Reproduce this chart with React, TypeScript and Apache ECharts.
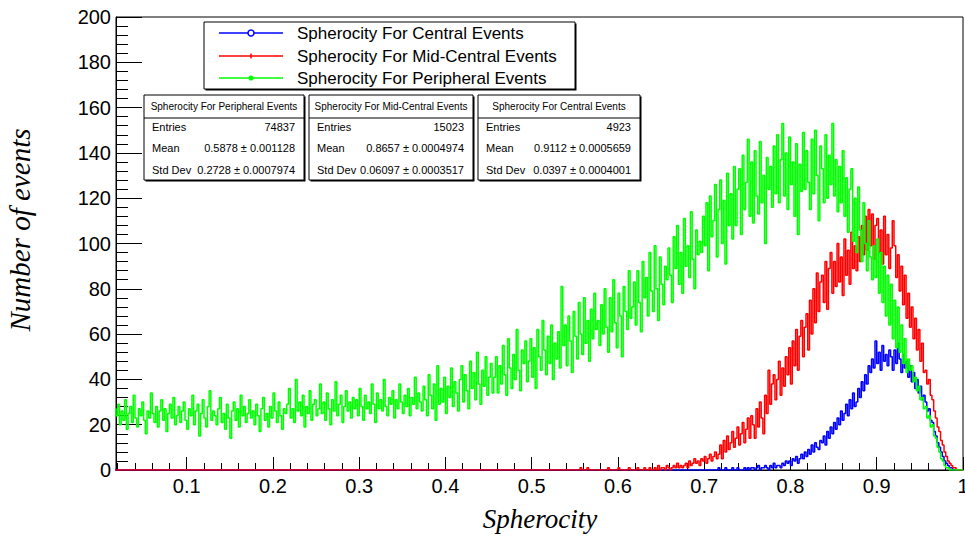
import React, { useEffect, useRef } from "react";
import * as echarts from "echarts";

// ---------- data ----------
const BIN_START = 0.016;
const BIN_WIDTH = 0.002;
const X_MIN = 0.018;
const X_MAX = 1;

const greenStart = 0.016;
const greenValues = [
  27, 24, 29, 20, 26, 22, 31, 18, 25, 28, 21, 33, 23, 19, 27, 24, 30, 22, 16, 26,
  23, 34, 25, 21, 28, 19, 26, 31, 22, 27, 17, 25, 29, 23, 32, 20, 24, 28, 21, 26,
  30, 22, 18, 27, 24, 33, 20, 26, 29, 15, 25, 31, 23, 19, 28, 35, 22, 26, 24, 20,
  27, 32, 21, 25, 18, 29, 23, 14, 26, 30, 22, 27, 19, 33, 24, 28, 21, 25, 31, 23,
  26, 20, 29, 24, 17, 27, 32, 22, 25, 19, 28, 23, 34, 26, 21, 30, 24, 18, 27, 25,
  29, 36, 23, 27, 21, 40, 26, 30, 24, 33, 19, 28, 25, 35, 22, 29, 31, 24, 27, 38,
  25, 30, 22, 34, 27, 20, 31, 26, 39, 24, 29, 33, 21, 28, 35, 26, 30, 23, 32, 27,
  31, 24, 36, 28, 22, 33, 27, 30, 25, 38, 29, 21, 34, 27, 31, 26, 40, 28, 24, 32,
  29, 35, 23, 31, 27, 38, 30, 25, 33, 28, 36, 24, 32, 29, 41, 27, 34, 30, 26, 37,
  31, 24, 42, 33, 27, 38, 22, 46, 29, 36, 30, 41, 25, 37, 32, 45, 28, 39, 34, 26,
  40, 46, 30, 42, 35, 27, 48, 36, 43, 31, 52, 38, 29, 44, 37, 50, 33, 41, 47, 34,
  41, 50, 34, 46, 38, 55, 42, 33, 58, 45, 36, 51, 40, 62, 44, 35, 53, 47, 57, 39,
  48, 58, 41, 54, 36, 62, 50, 44, 66, 53, 42, 59, 47, 64, 40, 56, 49, 61, 45, 81,
  55, 64, 46, 68, 57, 43, 70, 59, 49, 74, 60, 51, 76, 56, 66, 48, 71, 58, 78, 62,
  66, 55, 73, 60, 80, 63, 52, 76, 61, 84, 65, 54, 78, 68, 50, 81, 70, 62, 88, 67,
  72, 83, 64, 88, 74, 61, 92, 76, 85, 68, 96, 79, 70, 99, 80, 66, 94, 82, 73, 90,
  84, 98, 86, 74, 103, 89, 108, 82, 96, 78, 111, 90, 99, 85, 114, 93, 80, 106, 95, 101,
  96, 112, 99, 118, 88, 121, 103, 110, 126, 94, 115, 128, 100, 119, 91, 131, 108, 122, 102, 134,
  108, 124, 133, 104, 139, 115, 127, 146, 112, 136, 109, 141, 121, 113, 145, 118, 130, 100, 138, 124,
  134, 116, 143, 122, 148, 118, 137, 153, 121, 140, 115, 147, 126, 136, 112, 144, 104, 135, 123, 149,
  124, 141, 127, 115, 146, 122, 150, 130, 110, 143, 133, 118, 148, 120, 139, 126, 153, 121, 137, 114,
  134, 118, 141, 112, 129, 105, 124, 133, 101, 120, 96, 125, 106, 92, 118, 100, 88, 110, 94, 84,
  99, 85, 102, 78, 96, 74, 90, 68, 86, 64, 82, 58, 75, 54, 72, 52, 64, 47, 58, 43,
  49, 44, 46, 39, 41, 35, 37, 31, 32, 27, 28, 23, 24, 19, 20, 15, 14, 10, 8, 5,
  4, 2, 1, 1,
];

const redStart = 0.556;
const redValues = [
  1, 0, 0, 0, 1, 0, 0, 0, 0, 0, 0, 0, 0, 0, 0, 0, 1, 0, 0, 0,
  0, 0, 1, 0, 0, 0, 0, 0, 1, 0, 0, 0, 0, 1, 0, 0, 0, 1, 0, 0,
  1, 0, 0, 1, 0, 2, 0, 1, 1, 0, 2, 1, 0, 1, 2, 1, 3, 1, 2, 1,
  2, 3, 1, 4, 2, 3, 5, 3, 4, 2, 5, 4, 6, 3, 5, 7, 4, 6, 8, 5,
  7, 11, 5, 13, 8, 15, 9, 12, 17, 10, 14, 19, 11, 16, 21, 12, 18, 23, 14, 24,
  20, 14, 27, 19, 30, 23, 16, 33, 25, 44, 29, 38, 42, 31, 40, 48, 33, 45, 37, 50,
  42, 54, 38, 57, 46, 62, 44, 59, 66, 50, 63, 69, 53, 75, 60, 80, 65, 87, 70, 83,
  86, 74, 92, 71, 89, 96, 78, 92, 81, 100, 83, 94, 77, 102, 86, 97, 82, 105, 89, 99,
  88, 103, 92, 108, 95, 112, 97, 115, 99, 113, 93, 108, 111, 96, 106, 91, 112, 95, 104, 89,
  98, 110, 99, 85, 95, 79, 90, 73, 86, 67, 78, 63, 72, 58, 67, 53, 62, 48, 56, 43,
  44, 38, 40, 33, 31, 26, 23, 19, 17, 13, 11, 8, 6, 4, 3, 2, 1, 1,
];

const blueStart = 0.716;
const blueValues = [
  1, 0, 0, 0, 1, 0, 0, 0, 1, 0, 0, 1, 0, 0, 0, 1, 0, 1, 0, 1,
  1, 0, 1, 2, 0, 1, 1, 2, 1, 0, 2, 1, 3, 1, 2, 2, 1, 3, 2, 4,
  3, 4, 2, 5, 4, 6, 3, 5, 7, 5, 8, 6, 9, 7, 11, 8, 12, 10, 9, 13,
  12, 15, 11, 17, 14, 19, 16, 21, 18, 23, 20, 26, 22, 25, 29, 24, 31, 27, 34, 28,
  30, 36, 32, 39, 35, 42, 38, 46, 43, 49, 45, 57, 47, 52, 44, 55, 48, 51, 46, 53,
  50, 44, 53, 47, 56, 49, 43, 51, 45, 48, 41, 46, 39, 43, 36, 40, 34, 37, 31, 33,
  30, 26, 27, 22, 21, 17, 15, 12, 10, 8, 6, 4, 3, 2, 1, 1,
];

const xMajorTicks = [0.1, 0.2, 0.3, 0.4, 0.5, 0.6, 0.7, 0.8, 0.9, 1.0];
const xMinorTicks = [
  0.02, 0.04, 0.06, 0.08, 0.12, 0.14, 0.16, 0.18, 0.22, 0.24, 0.26, 0.28,
  0.32, 0.34, 0.36, 0.38, 0.42, 0.44, 0.46, 0.48, 0.52, 0.54, 0.56, 0.58,
  0.62, 0.64, 0.66, 0.68, 0.72, 0.74, 0.76, 0.78, 0.82, 0.84, 0.86, 0.88,
  0.92, 0.94, 0.96, 0.98,
];
const Y_MIN = 0;
const Y_MAX = 200;
const Y_STEP = 20;

const seriesNames = [
  "Spherocity For Central Events",
  "Spherocity For Mid-Central Events",
  "Spherocity For Peripheral Events",
];
const seriesColors = ["#0000ff", "#ff0000", "#00ff00"];

const statTitles = [
  "Spherocity For Peripheral Events",
  "Spherocity For Mid-Central Events",
  "Spherocity For Central Events",
];
const statEntries = ["74837", "15023", "4923"];
const statMeans = ["0.5878 ± 0.001128", "0.8657 ± 0.0004974", "0.9112 ± 0.0005659"];
const statStdDevs = ["0.2728 ± 0.0007974", "0.06097 ± 0.0003517", "0.0397 ± 0.0004001"];

const xTitle = "Spherocity";
const yTitle = "Number of events";

// ---------- helpers ----------
function buildHist(start: number, values: number[]) {
  const nTotal = Math.round((1 - BIN_START) / BIN_WIDTH);
  const offset = Math.round((start - BIN_START) / BIN_WIDTH);
  const pts: [number, number][] = [];
  for (let i = 0; i <= nTotal; i++) {
    const j = i - offset;
    const v = j >= 0 && j < values.length ? values[j] : 0;
    pts.push([+(BIN_START + i * BIN_WIDTH).toFixed(4), v]);
  }
  return pts;
}

const SANS = "'Liberation Sans', Arial, Helvetica, sans-serif";
const SERIF = "'Liberation Serif', 'Times New Roman', serif";

export default function App() {
  const ref = useRef<HTMLDivElement>(null);

  useEffect(() => {
    if (!ref.current) return;
    const chart = echarts.init(ref.current, undefined, { renderer: "svg" });

    const hists = [
      buildHist(blueStart, blueValues),
      buildHist(redStart, redValues),
      buildHist(greenStart, greenValues),
    ];

    // legend graphic
    const legendX = 204, legendY = 22, legendW = 371, legendH = 67;
    const rowsY = [33, 56, 78];
    const legendChildren: any[] = [
      { type: "rect", shape: { x: legendX + 1.5, y: legendY + 1.5, width: legendW, height: legendH }, style: { fill: "#000" } },
      { type: "rect", shape: { x: legendX, y: legendY, width: legendW, height: legendH }, style: { fill: "#fff", stroke: "#000", lineWidth: 1 } },
    ];
    seriesNames.forEach((name, i) => {
      const y = rowsY[i];
      legendChildren.push({ type: "line", shape: { x1: 219, y1: y, x2: 283, y2: y }, style: { stroke: seriesColors[i], lineWidth: 1.5 } });
      if (i === 0) {
        legendChildren.push({ type: "circle", shape: { cx: 251, cy: y, r: 3 }, style: { fill: "#fff", stroke: seriesColors[i], lineWidth: 1.5 } });
      } else if (i === 1) {
        legendChildren.push({ type: "line", shape: { x1: 251, y1: y - 2.5, x2: 251, y2: y + 2.5 }, style: { stroke: seriesColors[i], lineWidth: 1.5 } });
      } else {
        legendChildren.push({ type: "circle", shape: { cx: 251, cy: y, r: 2.5 }, style: { fill: seriesColors[i] } });
      }
      legendChildren.push({
        type: "text", x: 297, y, style: { text: name, fontSize: 17, fontFamily: SANS, fill: "#000", textAlign: "left", textVerticalAlign: "middle" },
      });
    });

    // stat boxes
    const boxX = [144, 309, 478];
    const boxW = [160, 164, 162];
    const boxY = 95, boxH = 85, sepY = 118;
    const statChildren: any[] = [];
    statTitles.forEach((title, i) => {
      const x = boxX[i], w = boxW[i];
      statChildren.push(
        { type: "rect", shape: { x: x + 1.5, y: boxY + 1.5, width: w, height: boxH }, style: { fill: "#000" } },
        { type: "rect", shape: { x, y: boxY, width: w, height: boxH }, style: { fill: "#fff", stroke: "#000", lineWidth: 1 } },
        { type: "line", shape: { x1: x, y1: sepY, x2: x + w, y2: sepY }, style: { stroke: "#000", lineWidth: 1 } },
        { type: "text", x: x + w / 2, y: 106, style: { text: title, fontSize: 10, fontFamily: SANS, fill: "#000", textAlign: "center", textVerticalAlign: "middle" } },
      );
      const labels = ["Entries", "Mean", "Std Dev"];
      const vals = [statEntries[i], statMeans[i], statStdDevs[i]];
      const ys = [127, 148, 170];
      labels.forEach((lab, k) => {
        statChildren.push(
          { type: "text", x: x + 8, y: ys[k], style: { text: lab, fontSize: 11, fontFamily: SANS, fill: "#000", textAlign: "left", textVerticalAlign: "middle" } },
          { type: "text", x: x + w - 9, y: ys[k], style: { text: vals[k], fontSize: 11, fontFamily: SANS, fill: "#000", textAlign: "right", textVerticalAlign: "middle" } },
        );
      });
    });

    const option: any = {
      animation: false,
      backgroundColor: "#fff",
      grid: {
        left: 116, right: 2, top: 17, bottom: 66, show: true, borderColor: "#000", borderWidth: 1,
        backgroundColor: "transparent", containLabel: false, outerBoundsMode: "none",
      },
      xAxis: [
        {
          type: "value", min: X_MIN, max: X_MAX,
          axisLine: { show: true, onZero: false, lineStyle: { color: "#000", width: 1 } },
          axisTick: { show: true, inside: true, length: 13, customValues: xMajorTicks, lineStyle: { color: "#000", width: 1 } },
          axisLabel: {
            show: true, customValues: xMajorTicks, fontSize: 20, fontFamily: SANS, color: "#000", margin: 6,
            formatter: (v: number) => (Math.abs(v - 1) < 1e-9 ? "1" : v.toFixed(1)),
          },
          splitLine: { show: false },
        },
        {
          type: "value", min: X_MIN, max: X_MAX, position: "bottom",
          axisLine: { show: false },
          axisTick: { show: true, inside: true, length: 7, customValues: xMinorTicks, lineStyle: { color: "#000", width: 1 } },
          axisLabel: { show: false },
          splitLine: { show: false },
        },
      ],
      yAxis: {
        type: "value", min: Y_MIN, max: Y_MAX, interval: Y_STEP,
        axisLine: { show: true, lineStyle: { color: "#000", width: 1 } },
        axisTick: { show: true, inside: true, length: 26, lineStyle: { color: "#000", width: 1 } },
        minorTick: { show: true, splitNumber: 5, length: 12, lineStyle: { color: "#000", width: 1 } },
        axisLabel: { fontSize: 20, fontFamily: SANS, color: "#000", margin: 5 },
        splitLine: { show: false },
        minorSplitLine: { show: false },
      },
      series: hists.map((data, i) => ({
        type: "line",
        name: seriesNames[i],
        xAxisIndex: 0,
        data,
        step: "end",
        symbol: "none",
        lineStyle: { color: seriesColors[i], width: 1.5 },
        itemStyle: { color: seriesColors[i] },
        clip: true,
        z: 2 + i,
      })),
      graphic: [
        { type: "group", z: 100, children: legendChildren },
        { type: "group", z: 100, children: statChildren },
        {
          type: "text", x: 540, y: 519, z: 100,
          style: { text: xTitle, fontSize: 27, fontFamily: SERIF, fontStyle: "italic", fill: "#000", textAlign: "center", textVerticalAlign: "middle" },
        },
        {
          type: "text", x: 20, y: 230, rotation: Math.PI / 2, z: 100,
          style: { text: yTitle, fontSize: 29, fontFamily: SERIF, fontStyle: "italic", fill: "#000", textAlign: "center", textVerticalAlign: "middle" },
        },
      ],
    };

    chart.setOption(option);
    return () => chart.dispose();
  }, []);

  return (
    <div
      ref={ref}
      style={{ position: "absolute", left: 0, top: 0, width: 965, height: 536, background: "#fff" }}
    />
  );
}
